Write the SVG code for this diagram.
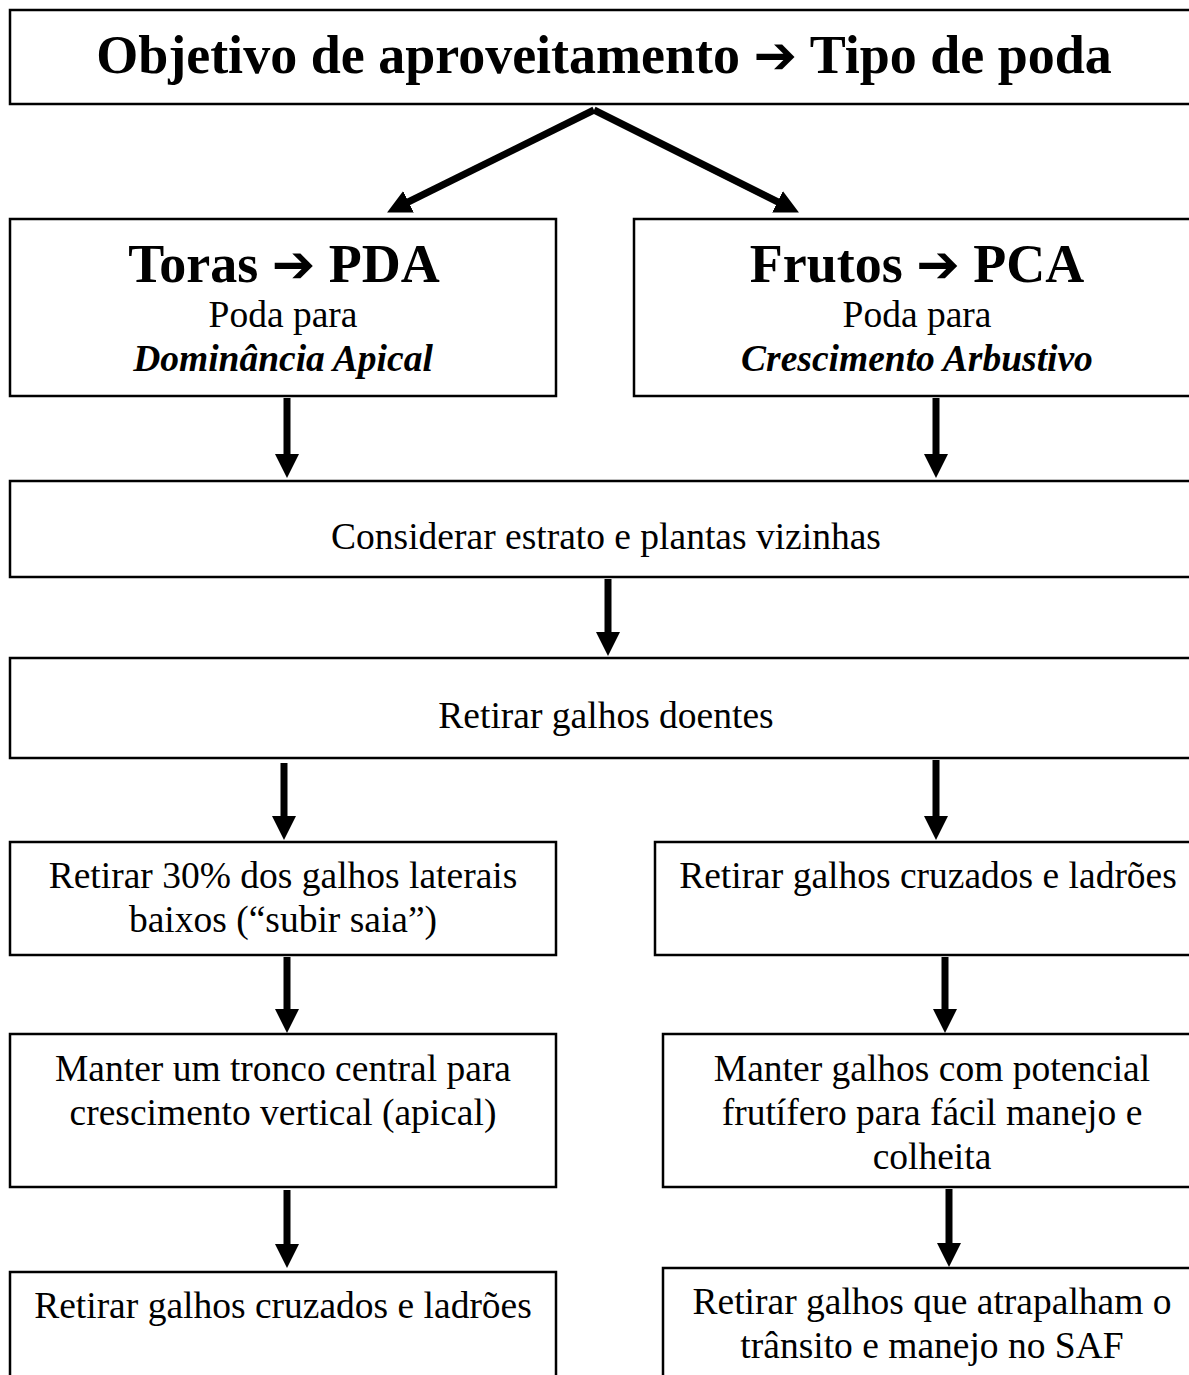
<svg xmlns="http://www.w3.org/2000/svg" width="1189" height="1375" viewBox="0 0 1189 1375">
<style>
rect.box{fill:#fff;stroke:#000;stroke-width:2.5}
text{font-family:"Liberation Serif","Times New Roman",serif;fill:#000;text-anchor:middle}
.t{font-size:37.5px}
.h{font-size:54px;font-weight:bold}
.bi{font-size:37.5px;font-weight:bold;font-style:italic}
.ar{font-family:"DejaVu Sans",sans-serif;font-weight:bold;font-size:52px}
.c line{stroke:#000;stroke-width:7;marker-end:url(#ah)}
</style>
<defs>
<marker id="ah" markerUnits="userSpaceOnUse" markerWidth="24" markerHeight="24" viewBox="0 0 24 24" refX="14" refY="12" orient="auto">
<path d="M0,0 L24,12 L0,24 z" fill="#000"/>
</marker>
</defs>
<rect width="1189" height="1375" fill="#fff"/>
<g id="n-title"><rect class="box" x="10" y="10" width="1200" height="94"/>
<text class="h" x="604" y="73">Objetivo de aproveitamento <tspan class="ar">➔</tspan> Tipo de poda</text></g>
<g id="n-toras"><rect class="box" x="10" y="219" width="546" height="177"/>
<text class="h" x="284" y="282">Toras <tspan class="ar">➔</tspan> PDA</text>
<text class="t" x="283" y="327">Poda para</text>
<text class="bi" x="283" y="371">Dominância Apical</text></g>
<g id="n-frutos"><rect class="box" x="634" y="219" width="600" height="177"/>
<text class="h" x="917" y="282">Frutos <tspan class="ar">➔</tspan> PCA</text>
<text class="t" x="917" y="327">Poda para</text>
<text class="bi" x="917" y="371">Crescimento Arbustivo</text></g>
<g id="n-considerar"><rect class="box" x="10" y="481" width="1200" height="96"/>
<text class="t" x="606" y="549">Considerar estrato e plantas vizinhas</text></g>
<g id="n-doentes"><rect class="box" x="10" y="658" width="1200" height="100"/>
<text class="t" x="606" y="728">Retirar galhos doentes</text></g>
<g id="n-l1"><rect class="box" x="10" y="842" width="546" height="113"/>
<text class="t" x="283" y="888">Retirar 30% dos galhos laterais</text>
<text class="t" x="283" y="932">baixos (“subir saia”)</text></g>
<g id="n-r1"><rect class="box" x="655" y="842" width="600" height="113"/>
<text class="t" x="928" y="888">Retirar galhos cruzados e ladrões</text></g>
<g id="n-l2"><rect class="box" x="10" y="1034" width="546" height="153"/>
<text class="t" x="283" y="1081">Manter um tronco central para</text>
<text class="t" x="283" y="1125">crescimento vertical (apical)</text></g>
<g id="n-r2"><rect class="box" x="663" y="1034" width="600" height="153"/>
<text class="t" x="932" y="1081">Manter galhos com potencial</text>
<text class="t" x="932" y="1125">frutífero para fácil manejo e</text>
<text class="t" x="932" y="1169">colheita</text></g>
<g id="n-l3"><rect class="box" x="10" y="1272" width="546" height="120"/>
<text class="t" x="283" y="1318">Retirar galhos cruzados e ladrões</text></g>
<g id="n-r3"><rect class="box" x="663" y="1268" width="600" height="120"/>
<text class="t" x="932" y="1314">Retirar galhos que atrapalham o</text>
<text class="t" x="932" y="1358">trânsito e manejo no SAF</text></g>
<g id="connectors" class="c">
<line x1="594" y1="110" x2="396" y2="208"/>
<line x1="594" y1="110" x2="790" y2="208"/>
<line x1="287" y1="398" x2="287" y2="468"/>
<line x1="936" y1="398" x2="936" y2="468"/>
<line x1="608" y1="579" x2="608" y2="646"/>
<line x1="284" y1="763" x2="284" y2="830"/>
<line x1="936" y1="760" x2="936" y2="830"/>
<line x1="287" y1="957" x2="287" y2="1023"/>
<line x1="945" y1="957" x2="945" y2="1023"/>
<line x1="287" y1="1190" x2="287" y2="1258"/>
<line x1="949" y1="1189" x2="949" y2="1257"/>
</g>
</svg>
